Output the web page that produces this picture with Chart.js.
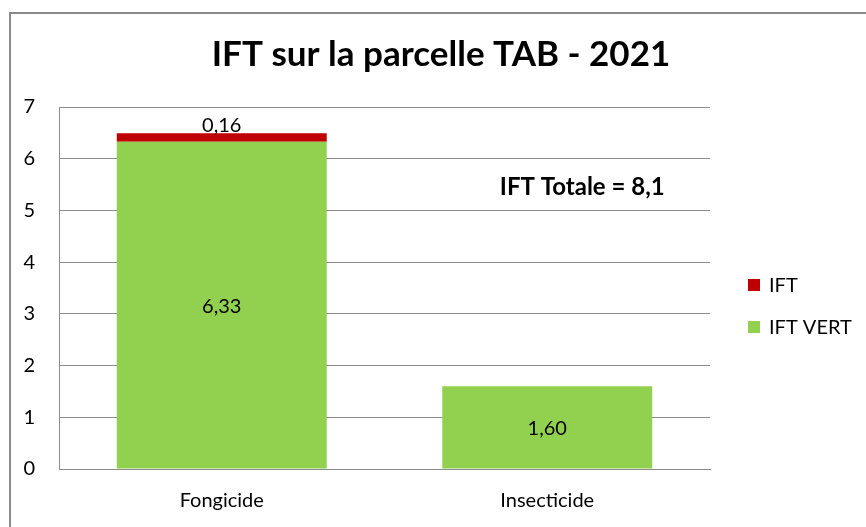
<!DOCTYPE html>
<html>
<head>
<meta charset="utf-8">
<script src="https://cdn.jsdelivr.net/npm/chart.js@4"></script>
<style>
  html, body { margin: 0; padding: 0; background: #fff; }
  #wrap { width: 866px; height: 527px; }
</style>
</head>
<body>
<div id="wrap"><canvas id="iftChart" width="866" height="527"></canvas></div>
<script>
// --- data ---
const categories = ['Fongicide', 'Insecticide'];
const iftVert = [6.33, 1.60];
const iftChem = [0.16, 0];
const yTicks = [0, 1, 2, 3, 4, 5, 6, 7];
const chartTitle = 'IFT sur la parcelle TAB - 2021';
const totalLabel = 'IFT Totale = 8,1';

const FONT = 'Lato, "Open Sans", sans-serif';
const GRID = '#8c8c8c';

const fmt = v => v.toFixed(2).replace('.', ',');

// outer frame + title (title centred on the whole frame, not on the plot)
const framePlugin = {
    id: 'frame',
    beforeDraw(chart) {
        const ctx = chart.ctx;
        ctx.save();
        ctx.fillStyle = '#fff';
        ctx.fillRect(0, 0, chart.width, chart.height);
        ctx.strokeStyle = '#8a8a8a';
        ctx.lineWidth = 2;
        ctx.strokeRect(10, 13, chart.width + 20, chart.height + 20);

        ctx.fillStyle = '#000';
        ctx.font = 'bold 35px ' + FONT;
        ctx.textAlign = 'center';
        ctx.textBaseline = 'middle';
        ctx.fillText(chartTitle, 441, 55);
        ctx.restore();
    }
};

// value labels, custom legend and the total annotation
const labelsPlugin = {
    id: 'labels',
    afterDatasetsDraw(chart) {
        const ctx = chart.ctx;
        ctx.save();
        ctx.fillStyle = '#000';
        ctx.font = '20px ' + FONT;
        ctx.textAlign = 'center';
        ctx.textBaseline = 'middle';

        // green part: centred inside the bar
        chart.getDatasetMeta(0).data.forEach((bar, i) => {
            const v = iftVert[i];
            if (!v) return;
            ctx.fillText(fmt(v), bar.x, (bar.y + bar.base) / 2 + 1);
        });
        // red part: just above the bar
        chart.getDatasetMeta(1).data.forEach((bar, i) => {
            const v = iftChem[i];
            if (!v) return;
            ctx.fillText(fmt(v), bar.x, bar.y - 8);
        });

        // total annotation
        const xs = chart.scales.x, ys = chart.scales.y;
        ctx.font = 'bold 24px ' + FONT;
        ctx.fillText(totalLabel, xs.getPixelForValue(1) + 35, ys.getPixelForValue(5.45));

        // legend on the right (top item = top of stack)
        const items = chart.data.datasets.slice().reverse();
        const lx = chart.chartArea.right + 38;
        let ly = 285;
        ctx.font = '20px ' + FONT;
        ctx.textAlign = 'left';
        items.forEach(ds => {
            ctx.fillStyle = ds.backgroundColor;
            ctx.fillRect(lx, ly - 6, 12, 12);
            ctx.fillStyle = '#000';
            ctx.fillText(ds.label, lx + 21, ly + 1);
            ly += 42;
        });
        ctx.restore();
    }
};

new Chart(document.getElementById('iftChart'), {
    type: 'bar',
    data: {
        labels: categories,
        datasets: [
            { label: 'IFT VERT', data: iftVert, backgroundColor: '#92d050' },
            { label: 'IFT', data: iftChem, backgroundColor: '#c00000' }
        ]
    },
    options: {
        responsive: false,
        animation: false,
        devicePixelRatio: 1,
        layout: { padding: { left: 12, right: 156, top: 107, bottom: 0 } },
        datasets: { bar: { categoryPercentage: 1, barPercentage: 0.645 } },
        plugins: {
            legend: { display: false },
            tooltip: { enabled: false },
            title: { display: false }
        },
        scales: {
            x: {
                stacked: true,
                grid: { display: false },
                border: { color: GRID, width: 1 },
                ticks: { color: '#000', font: { family: FONT, size: 20 }, padding: 12 },
                afterFit(scale) { scale.height = 58; }
            },
            y: {
                stacked: true,
                min: 0,
                max: 7,
                afterBuildTicks(scale) { scale.ticks = yTicks.map(v => ({ value: v })); },
                grid: { color: GRID, drawTicks: false },
                border: { color: GRID, width: 1 },
                ticks: { color: '#000', font: { family: FONT, size: 20 }, padding: 24 },
                afterFit(scale) { scale.width = 47; }
            }
        }
    },
    plugins: [framePlugin, labelsPlugin]
});
</script>
</body>
</html>
